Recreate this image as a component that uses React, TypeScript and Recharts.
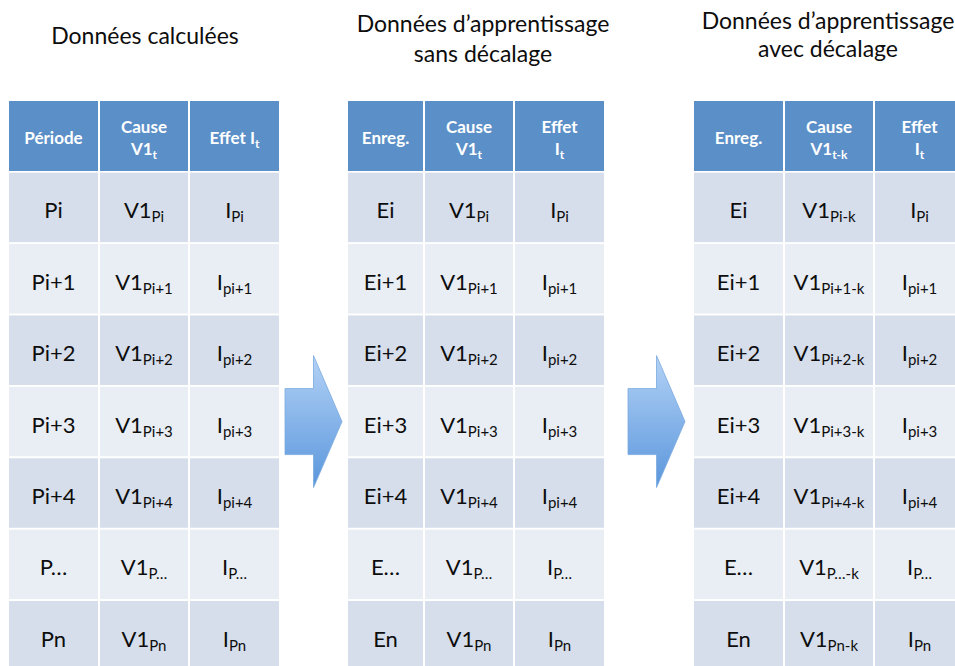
import { ComposedChart, Scatter, XAxis, YAxis } from 'recharts';

// titres au-dessus des trois tableaux
const titresCalcul = ['Données calculées'];
const titresSansDecalage = ['Données d’apprentissage', 'sans décalage'];
const titresAvecDecalage = ['Données d’apprentissage', 'avec décalage'];

// en-têtes : chaque ligne = [texte, indice]
const enTetesCalcul = [[['Période', '']], [['Cause', ''], ['V1', 't']], [['Effet I', 't']]];
const enTetesSansDecalage = [[['Enreg.', '']], [['Cause', ''], ['V1', 't']], [['Effet', ''], ['I', 't']]];
const enTetesAvecDecalage = [[['Enreg.', '']], [['Cause', ''], ['V1', 't-k']], [['Effet', ''], ['I', 't']]];

// contenu des lignes
const periodes = ['Pi', 'Pi+1', 'Pi+2', 'Pi+3', 'Pi+4', 'P…', 'Pn'];
const enregistrements = ['Ei', 'Ei+1', 'Ei+2', 'Ei+3', 'Ei+4', 'E…', 'En'];
const indicesCause = ['Pi', 'Pi+1', 'Pi+2', 'Pi+3', 'Pi+4', 'P…', 'Pn'];
const indicesCauseDecales = ['Pi-k', 'Pi+1-k', 'Pi+2-k', 'Pi+3-k', 'Pi+4-k', 'P…-k', 'Pn-k'];
const indicesEffet = ['Pi', 'pi+1', 'pi+2', 'pi+3', 'pi+4', 'P…', 'Pn'];

// mise en page (pixels de la diapo)
const W = 955;
const H = 666;
const FONT = 'Lato, "Open Sans", sans-serif';
const tableLeft = [9, 348, 694];
const colWidths = [[89, 88, 89], [75, 88, 89], [89, 88, 89]];
const colGap = 2;
const headerH = 70;
const rowH = 69.5;
const rowPitch = 71.4;
const headerCenter = 136;
const titleX = [145, 483, 828];
const titleY = [44, 32, 29];
const titleLineH = [0, 30, 28];
const arrowX = [313.5, 656.5];
const arrowRow = 4;

const rowDomain: [number, number] = [-headerCenter / rowPitch, (H - headerCenter) / rowPitch];

const HEADER_FILL = '#5b8fc8';
const DARK_ROW = '#d6deeb';
const LIGHT_ROW = '#e9edf4';

type Line = string[];
type Cell = { x: number; y: number; w: number; lines: Line[]; header: boolean };

function buildTable(t: number, headers: Line[][], columns: Line[][]): Cell[] {
  const cells: Cell[] = [];
  let left = tableLeft[t];
  colWidths[t].forEach((w, c) => {
    const x = left + w / 2;
    cells.push({ x, y: 0, w, lines: headers[c], header: true });
    columns[c].forEach((line, r) => {
      cells.push({ x, y: r + 1, w, lines: [line], header: false });
    });
    left += w + colGap;
  });
  return cells;
}

const zip = (a: string[], b: string[]) => a.map((v, i) => [v, b[i]]);
const repeat = (s: string) => periodes.map(() => s);

const cells: Cell[] = [
  ...buildTable(0, enTetesCalcul, [
    zip(periodes, repeat('')),
    zip(repeat('V1'), indicesCause),
    zip(repeat('I'), indicesEffet),
  ]),
  ...buildTable(1, enTetesSansDecalage, [
    zip(enregistrements, repeat('')),
    zip(repeat('V1'), indicesCause),
    zip(repeat('I'), indicesEffet),
  ]),
  ...buildTable(2, enTetesAvecDecalage, [
    zip(enregistrements, repeat('')),
    zip(repeat('V1'), indicesCauseDecales),
    zip(repeat('I'), indicesEffet),
  ]),
];

const titles = [titresCalcul, titresSansDecalage, titresAvecDecalage].map((lines, i) => ({
  x: titleX[i],
  y: titleY[i],
  lines,
  lh: titleLineH[i],
}));

const arrows = arrowX.map((x, i) => ({ x, y: arrowRow, id: i }));

const CellShape = (props: any) => {
  const { cx, cy, payload } = props;
  const h = payload.header ? headerH : rowH;
  const fill = payload.header ? HEADER_FILL : payload.y % 2 === 1 ? DARK_ROW : LIGHT_ROW;
  const lines: Line[] = payload.lines;
  const size = payload.header ? 17 : 22;
  const subSize = payload.header ? 12 : 15;
  const offsets = payload.header ? (lines.length === 1 ? [8] : [-3, 19]) : [11];
  return (
    <g>
      <rect x={cx - payload.w / 2} y={cy - h / 2} width={payload.w} height={h} fill={fill} />
      {lines.map((ln, i) => (
        <text
          key={i}
          x={cx}
          y={cy + offsets[i]}
          textAnchor="middle"
          fontFamily={FONT}
          fontSize={size}
          fontWeight={payload.header ? 700 : 400}
          fill={payload.header ? '#ffffff' : '#0d0d0d'}
        >
          <tspan>{ln[0]}</tspan>
          {ln[1] ? (
            <tspan dy={4} fontSize={subSize}>
              {ln[1]}
            </tspan>
          ) : null}
        </text>
      ))}
    </g>
  );
};

const TitleShape = (props: any) => {
  const { cx, cy, payload } = props;
  return (
    <g>
      {payload.lines.map((l: string, i: number) => (
        <text key={i} x={cx} y={cy + i * payload.lh} textAnchor="middle" fontFamily={FONT} fontSize={23} fill="#0d0d0d">
          {l}
        </text>
      ))}
    </g>
  );
};

const ArrowShape = (props: any) => {
  const { cx, cy, payload } = props;
  const hw = 28.5;
  const sh = 33;
  const hh = 66;
  const id = `arrowGrad${payload.id}`;
  const pts = [
    [cx - hw, cy - sh],
    [cx, cy - sh],
    [cx, cy - hh],
    [cx + hw, cy],
    [cx, cy + hh],
    [cx, cy + sh],
    [cx - hw, cy + sh],
  ]
    .map((p) => p.join(','))
    .join(' ');
  return (
    <g>
      <defs>
        <linearGradient id={id} x1="0" y1="0" x2="0" y2="1">
          <stop offset="0%" stopColor="#b3d2f6" />
          <stop offset="100%" stopColor="#5a96dc" />
        </linearGradient>
      </defs>
      <polygon points={pts} fill={`url(#${id})`} stroke="#7aa9e0" strokeWidth={0.8} />
    </g>
  );
};

export default function App() {
  return (
    <div style={{ position: 'absolute', left: 0, top: 0, background: '#ffffff' }}>
      <ComposedChart width={W} height={H} margin={{ top: 0, right: 0, bottom: 0, left: 0 }}>
        <XAxis dataKey="x" type="number" domain={[0, W]} allowDataOverflow hide />
        <YAxis yAxisId="rows" dataKey="y" type="number" domain={rowDomain} allowDataOverflow reversed hide />
        <YAxis yAxisId="page" dataKey="y" type="number" domain={[0, H]} allowDataOverflow reversed hide />
        <Scatter yAxisId="page" data={titles} shape={TitleShape} isAnimationActive={false} />
        <Scatter yAxisId="rows" data={cells} shape={CellShape} isAnimationActive={false} />
        <Scatter yAxisId="rows" data={arrows} shape={ArrowShape} isAnimationActive={false} />
      </ComposedChart>
    </div>
  );
}
